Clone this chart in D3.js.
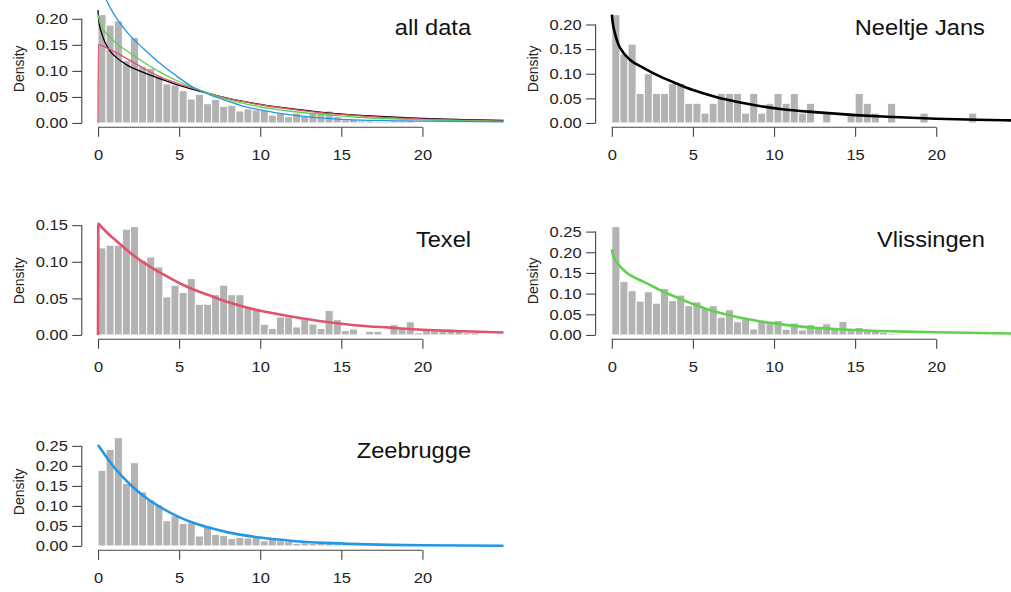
<!DOCTYPE html>
<html lang="en">
<head>
<meta charset="UTF-8">
<title>Density histograms by station</title>
<script src="https://d3js.org/d3.v7.min.js"></script>
<style>
  body { margin: 0; background: white; }
  svg { display: block; font-family: "Liberation Sans", Arial, sans-serif; }
  .tick text { font-size: 15px; fill: #222; }
  .title { font-size: 21.5px; fill: #111; }
  .ylab { font-size: 14px; fill: #222; }
</style>
</head>
<body>
<svg width="1011" height="592"></svg>
<script>
  // histogram densities, bins of 0.5 starting at 0
  const binWidth = 0.5;
  const xTicks = [0, 5, 10, 15, 20];
  const yTicks20 = [0, 0.05, 0.10, 0.15, 0.20];
  const yTicks15 = [0, 0.05, 0.10, 0.15];
  const yTicks25 = [0, 0.05, 0.10, 0.15, 0.20, 0.25];

  const allDataDens = [0.208, 0.188, 0.196, 0.120, 0.164, 0.108, 0.105, 0.090, 0.075, 0.073,
    0.062, 0.046, 0.055, 0.037, 0.045, 0.032, 0.034, 0.023, 0.027, 0.025,
    0.024, 0.015, 0.019, 0.012, 0.019, 0.013, 0.019, 0.020, 0.023, 0.012,
    0.006, 0.007, 0.004, 0.004, 0.003, 0.003, 0.004, 0.004, 0.005, 0.002,
    0.002, 0.002, 0.002, 0.001, 0.001, 0.001];
  const neeltjeDens = [0.22, 0.14, 0.16, 0.06, 0.10, 0.06, 0.06, 0.08, 0.08, 0.04,
    0.04, 0.02, 0.04, 0.06, 0.06, 0.06, 0.02, 0.06, 0.02, 0.04,
    0.06, 0.04, 0.06, 0.02, 0.04, 0, 0.02, 0, 0, 0.02,
    0.06, 0.04, 0.02, 0, 0.04, 0, 0, 0, 0.02, 0,
    0, 0, 0, 0, 0.02];
  const texelDens = [0.119, 0.1226, 0.1226, 0.1446, 0.148, 0.102, 0.1065, 0.093, 0.052, 0.068,
    0.058, 0.077, 0.042, 0.042, 0.055, 0.068, 0.055, 0.055, 0.038, 0.036,
    0.0147, 0.009, 0.0245, 0.0245, 0.011, 0.021, 0.015, 0.009, 0.0335, 0.021,
    0.006, 0.008, 0.0015, 0.005, 0.005, 0.0015, 0.014, 0.009, 0.018, 0.003,
    0.006, 0.006, 0.006, 0.008, 0.005, 0.003, 0.003];
  const vlissingenDens = [0.262, 0.129, 0.107, 0.082, 0.1045, 0.077, 0.1126, 0.083, 0.0965, 0.071,
    0.080, 0.067, 0.071, 0.043, 0.061, 0.032, 0.039, 0.0145, 0.035, 0.027,
    0.035, 0.014, 0.029, 0.012, 0.025, 0.017, 0.027, 0.014, 0.033, 0.0105,
    0.018, 0.014, 0.009, 0.0065, 0.004, 0.003];
  const zeebruggeDens = [0.189, 0.2415, 0.2706, 0.156, 0.208, 0.135, 0.115, 0.102, 0.063, 0.0755,
    0.056, 0.058, 0.025, 0.0515, 0.029, 0.026, 0.019, 0.0215, 0.020, 0.0215,
    0.013, 0.0175, 0.013, 0.011, 0.0066, 0.008, 0.0066, 0.0066, 0.011, 0.005,
    0.003, 0.002, 0.002, 0.001];

  // fitted density curves
  const blackAllX = [0, 0.05, 0.2, 0.4, 0.7, 1.2, 1.75, 2.8, 3.8, 4.8, 5.9, 6.9, 7.9, 10, 12, 14, 16, 18, 20, 22.5, 25];
  const blackAllY = [0.217, 0.195, 0.175, 0.157, 0.140, 0.124, 0.112, 0.097, 0.085, 0.074, 0.064, 0.056, 0.048, 0.0355, 0.027, 0.020, 0.015, 0.0115, 0.0088, 0.0065, 0.0048];
  const redAllX = [0, 0.02, 0.4, 1, 1.75, 2.8, 3.8, 4.8, 5.9, 6.9, 7.9, 9, 10, 12, 14, 16, 18, 20, 22.5, 25];
  const redAllY = [0, 0.151, 0.146, 0.137, 0.124, 0.105, 0.089, 0.077, 0.066, 0.056, 0.048, 0.041, 0.035, 0.026, 0.019, 0.014, 0.010, 0.0075, 0.0052, 0.0036];
  const greenAllX = [0, 0.1, 0.2, 0.7, 1.2, 1.75, 2.8, 3.8, 4.8, 5.9, 6.9, 7.9, 10, 12, 14, 16, 18, 20, 22.5, 25];
  const greenAllY = [0.208, 0.194, 0.186, 0.166, 0.151, 0.139, 0.117, 0.098, 0.082, 0.068, 0.056, 0.046, 0.031, 0.022, 0.016, 0.011, 0.008, 0.006, 0.0042, 0.003];
  const blueAllX = [0, 0.5, 1, 1.75, 2.8, 3.8, 4.8, 5.9, 6.9, 7.9, 9, 10, 12, 15, 20, 25];
  const blueAllY = [0.28, 0.237, 0.208, 0.176, 0.143, 0.115, 0.091, 0.068, 0.054, 0.043, 0.032, 0.025, 0.015, 0.007, 0.0035, 0.002];

  const neeltjeCurveX = [0, 0.05, 0.2, 0.4, 0.7, 1.1, 2, 3, 4, 5, 6, 7, 8, 9, 10.5, 12.5, 15, 17, 20, 22.5, 25];
  const neeltjeCurveY = [0.22, 0.205, 0.181, 0.160, 0.143, 0.129, 0.111, 0.094, 0.080, 0.067, 0.057, 0.048, 0.041, 0.035, 0.028, 0.022, 0.016, 0.0125, 0.0085, 0.0065, 0.005];
  const texelCurveX = [0, 0.02, 0.2, 0.5, 1, 2, 3, 4, 5, 6, 7, 8, 10, 12, 14, 16, 18, 20, 22, 25];
  const texelCurveY = [0, 0.152, 0.148, 0.141, 0.131, 0.112, 0.096, 0.083, 0.071, 0.061, 0.053, 0.045, 0.033, 0.025, 0.018, 0.013, 0.010, 0.0072, 0.0054, 0.0034];
  const vlissingenCurveX = [0, 0.1, 0.4, 0.9, 2, 3, 4, 5, 6, 7, 8, 9, 10, 12, 15, 18, 20, 25];
  const vlissingenCurveY = [0.207, 0.19, 0.171, 0.151, 0.128, 0.108, 0.091, 0.075, 0.061, 0.050, 0.041, 0.034, 0.028, 0.019, 0.012, 0.008, 0.0065, 0.0032];
  const zeebruggeCurveX = [0, 1, 2, 3, 4, 5, 6, 7, 8, 10, 12, 14, 16, 18, 20, 25];
  const zeebruggeCurveY = [0.252, 0.196, 0.153, 0.119, 0.093, 0.072, 0.056, 0.044, 0.034, 0.021, 0.0126, 0.0077, 0.0047, 0.0028, 0.0017, 0.0005];

  const pal = { black: "#000000", red: "#DF536B", green: "#61D04F", blue: "#2297E6" };
  const pairs = (xs, ys) => xs.map((v, i) => [v, ys[i]]);

  const panels = [
    { name: "all data", dens: allDataDens, yTicks: yTicks20, col: 0, row: 0, lw: 1.3, curves: [
      { pts: pairs(blackAllX, blackAllY), color: pal.black },
      { pts: pairs(redAllX, redAllY), color: pal.red },
      { pts: pairs(greenAllX, greenAllY), color: pal.green },
      { pts: pairs(blueAllX, blueAllY), color: pal.blue }] },
    { name: "Neeltje Jans", dens: neeltjeDens, yTicks: yTicks20, col: 1, row: 0, lw: 2.6, curves: [
      { pts: pairs(neeltjeCurveX, neeltjeCurveY), color: pal.black }] },
    { name: "Texel", dens: texelDens, yTicks: yTicks15, col: 0, row: 1, lw: 2.6, curves: [
      { pts: pairs(texelCurveX, texelCurveY), color: pal.red }] },
    { name: "Vlissingen", dens: vlissingenDens, yTicks: yTicks25, col: 1, row: 1, lw: 2.6, curves: [
      { pts: pairs(vlissingenCurveX, vlissingenCurveY), color: pal.green }] },
    { name: "Zeebrugge", dens: zeebruggeDens, yTicks: yTicks25, col: 0, row: 2, lw: 2.6, curves: [
      { pts: pairs(zeebruggeCurveX, zeebruggeCurveY), color: pal.blue }] }
  ];

  const svg = d3.select("svg");
  const colLeft = [81.8, 595.6];
  const rowBottom = [127.3, 339.3, 550.3];
  const plotH = 117, unitPx = 16.22;
  const stretch = 1.1;

  panels.forEach(p => {
    const left = colLeft[p.col], bottom = rowBottom[p.row];
    const g = svg.append("g");
    const x = d3.scaleLinear().domain([-1, 26]).range([left, left + 27 * unitPx]);
    const m = d3.max(p.dens);
    const y = d3.scaleLinear().domain([-0.04 * m, 1.04 * m]).range([bottom, bottom - plotH]);

    g.selectAll("rect").data(p.dens).join("rect")
      .attr("x", (d, i) => x(i * binWidth))
      .attr("width", x(binWidth) - x(0))
      .attr("y", d => y(d))
      .attr("height", d => y(0) - y(d))
      .attr("fill", "#b3b3b3")
      .attr("stroke", "white")
      .attr("stroke-width", 1);

    const line = d3.line().x(d => x(d[0])).y(d => y(d[1])).curve(d3.curveMonotoneX);
    p.curves.forEach(c => {
      g.append("path").attr("d", line(c.pts))
        .attr("fill", "none").attr("stroke", c.color)
        .attr("stroke-width", p.lw).attr("stroke-linejoin", "round");
    });

    // x axis, R style: line only between first and last tick
    const xa = g.append("g").attr("transform", `translate(0,${bottom})`)
      .call(d3.axisBottom(x).tickValues(xTicks).tickSize(9.5).tickPadding(12.8).tickFormat(d3.format("d")));
    xa.select(".domain").attr("d", `M${x(xTicks[0])},0H${x(xTicks[xTicks.length - 1])}`);
    xa.selectAll("line, .domain").attr("stroke", "#444").attr("stroke-width", 1.1);
    xa.selectAll("text").attr("transform", `scale(${stretch},1)`);

    const ya = g.append("g").attr("transform", `translate(${left},0)`)
      .call(d3.axisLeft(y).tickValues(p.yTicks).tickSize(9.5).tickFormat(d3.format(".2f")));
    const lastY = p.yTicks[p.yTicks.length - 1];
    ya.select(".domain").attr("d", `M0,${y(0)}V${y(lastY)}`);
    ya.selectAll("line, .domain").attr("stroke", "#444").attr("stroke-width", 1.1);
    ya.selectAll("text").attr("x", 0).attr("transform", `translate(-14,0) scale(${stretch},1)`);

    g.append("text").attr("class", "ylab")
      .attr("transform", `translate(${left - 63},${bottom - plotH / 2}) rotate(-90)`)
      .attr("text-anchor", "middle").attr("dy", "0.35em")
      .text("Density");

    g.append("text").attr("class", "title")
      .attr("transform", `translate(${x(23)},${bottom - 92.5}) scale(${stretch},1)`)
      .attr("text-anchor", "end")
      .text(p.name);
  });
</script>
</body>
</html>
